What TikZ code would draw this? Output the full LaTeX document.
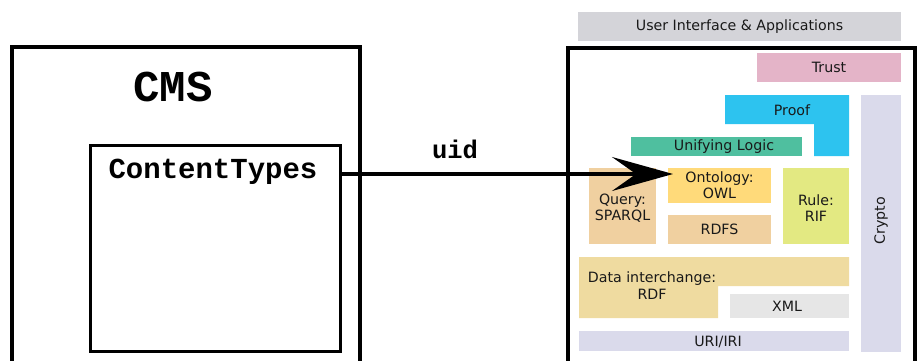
\documentclass[tikz,border=0pt]{standalone}
\usepackage{fontspec}
\setmainfont{DejaVu Sans}
\newfontfamily\cour{Liberation Mono}
\usetikzlibrary{arrows.meta}
\definecolor{cui}{HTML}{D4D4D9}
\definecolor{ctrust}{HTML}{E4B4C8}
\definecolor{cproof}{HTML}{2DC3EF}
\definecolor{clogic}{HTML}{4FBF9F}
\definecolor{ctan}{HTML}{F0D0A0}
\definecolor{cowl}{HTML}{FFDA7A}
\definecolor{crule}{HTML}{E3E982}
\definecolor{clav}{HTML}{DADAEB}
\definecolor{cdata}{HTML}{EFDBA0}
\definecolor{cxml}{HTML}{E6E6E6}
\tikzset{
  frame/.style={draw=black, line width=4pt, inner sep=0pt, outer sep=0pt, rectangle},
  innerframe/.style={draw=black, line width=3pt, inner sep=0pt, outer sep=0pt, rectangle},
  layer/.style={rectangle, inner sep=0pt, outer sep=0pt, draw=none},
  lbl/.style={inner sep=0pt, align=center, text=black!90, font=\fontsize{14.2}{16.2}\selectfont},
  monolbl/.style={inner sep=0pt, anchor=base},
  arr/.style={line width=3.5pt, -{Stealth[length=61pt, width=34pt, inset=24pt]}}
}
\begin{document}
\begin{tikzpicture}[x=1pt,y=-1pt]
\useasboundingbox (0,0) rectangle (920,360);
\clip (0,0) rectangle (920,360);
% left side
\node[frame, minimum width=347.5pt, minimum height=333pt] (cms) at (185.75,213.5) {};
\node[monolbl] (cmslbl) at (173,101.7) {\cour\bfseries\fontsize{44}{44}\selectfont CMS};
\node[innerframe, minimum width=250pt, minimum height=205.5pt] (ct) at (215,248.25) {};
\node[monolbl] (ctlbl) at (213,178.5) {\cour\bfseries\fontsize{29}{29}\selectfont ContentTypes};
\node[monolbl] (uid) at (455,158.5) {\cour\bfseries\fontsize{25.5}{25.5}\selectfont uid};
% right side
\node[layer, fill=cui, minimum width=323pt, minimum height=29pt, lbl] (ui) at (739.5,26.5) {User Interface \& Applications};
\node[frame, minimum width=347pt, minimum height=332.5pt] (stack) at (741,213.75) {};
\node[layer, fill=ctrust, minimum width=144pt, minimum height=29pt, lbl] (trust) at (829,67.5) {Trust};
\fill[cproof] (725,95) -- (849,95) -- (849,156) -- (814,156) -- (814,124) -- (725,124) -- cycle;
\node[lbl] (proof) at (792,110) {Proof};
\node[layer, fill=clav, minimum width=40pt, minimum height=257pt] (crypto) at (881,223.5) {};
\node[lbl, rotate=90] (cryptolbl) at (881,221) {Crypto};
\node[layer, fill=clogic, minimum width=171pt, minimum height=19pt] (logic) at (716.5,146.5) {};
\node[lbl] (logiclbl) at (724,147) {Unifying Logic};
\node[layer, fill=ctan, minimum width=67pt, minimum height=76pt] (query) at (622.5,206) {};
\node[lbl] (querylbl) at (622.5,208) {Query:\\SPARQL};
\node[layer, fill=cowl, minimum width=103pt, minimum height=35pt, lbl] (owl) at (719.5,185.5) {Ontology:\\OWL};
\node[layer, fill=ctan, minimum width=103pt, minimum height=29pt, lbl] (rdfs) at (719.5,229.5) {RDFS};
\node[layer, fill=crule, minimum width=66pt, minimum height=76pt] (rule) at (816,206) {};
\node[lbl] (rulelbl) at (816,208) {Rule:\\RIF};
\fill[cdata] (579,257) -- (849,257) -- (849,286) -- (718,286) -- (718,318) -- (579,318) -- cycle;
\node[lbl] (data) at (652,285.5) {Data interchange:\\RDF};
\node[layer, fill=cxml, minimum width=119pt, minimum height=24pt] (xml) at (789.5,306) {};
\node[lbl] (xmllbl) at (787,306.5) {XML};
\node[layer, fill=clav, minimum width=270pt, minimum height=20pt] (uri) at (714,341) {};
\node[lbl] (urilbl) at (718,341.5) {URI/IRI};
% connector
\coordinate (tip) at (673,174);
\draw[arr] (ct.east |- tip) -- (tip);
\end{tikzpicture}
\end{document}
